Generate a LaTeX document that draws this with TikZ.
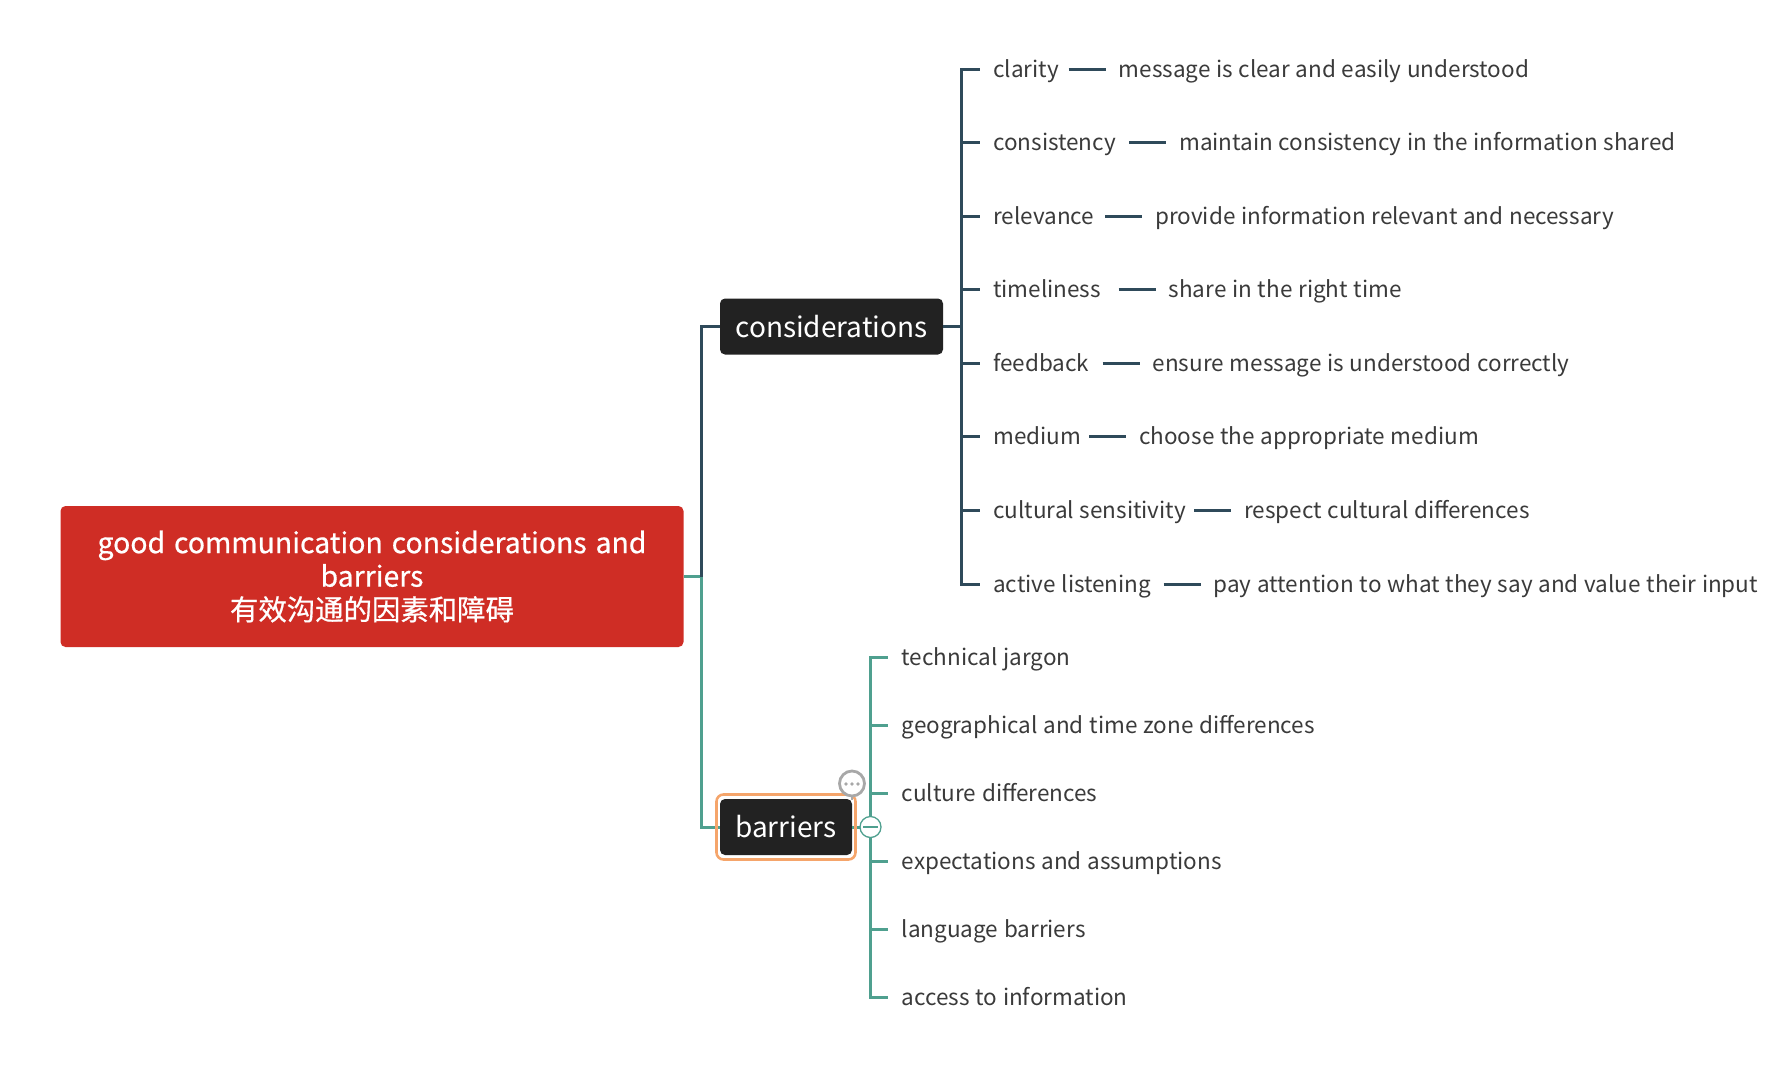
\documentclass[tikz,border=0pt]{standalone}
\usepackage{fontspec}
\setmainfont[WordSpace=1.14]{Noto Sans CJK SC}
\newfontfamily\rootfont[FakeBold=0.6,WordSpace=1.4]{Noto Sans CJK SC}
\definecolor{rootred}{HTML}{CF2D25}
\definecolor{boxblack}{HTML}{222222}
\definecolor{inkgrey}{HTML}{3A3A3A}
\definecolor{darkbranch}{HTML}{2F4A5A}
\definecolor{greenbranch}{HTML}{4FA08F}
\definecolor{selorange}{HTML}{F5A56B}
\definecolor{notegrey}{HTML}{A8A8A8}
\tikzset{
    rootbox/.style={fill=rootred, text=white, rounded corners=5pt, minimum width=623pt, minimum height=141pt, align=center, inner sep=0pt, font=\rootfont\fontsize{28.4}{33.5}\selectfont},
    topicbox/.style={fill=boxblack, text=white, rounded corners=5pt, minimum height=56pt, inner sep=0pt, font=\fontsize{28}{30}\selectfont},
    leaf/.style={anchor=west, inner sep=0pt, text height=21pt, text depth=5pt, text=inkgrey, font=\fontsize{22.5}{26}\selectfont},
    darkline/.style={draw=darkbranch, line width=3pt},
    greenline/.style={draw=greenbranch, line width=3pt}
}
\begin{document}
\begin{tikzpicture}[x=1pt, y=-1pt]
    \useasboundingbox (0,0) rectangle (1788,1072);
    \node[rootbox] (root) at (372,576.5) {good communication considerations and\\barriers\\有效沟通的因素和障碍};
    \node[topicbox, minimum width=223pt] (considerations) at (831.5,326.5) {considerations};
    \node[topicbox, minimum width=132pt] (barriers) at (786,827) {barriers};
    \coordinate (mainjoint) at (701.5,576.5);
    \coordinate (construnk) at (961.5,326.5);
    \coordinate (bartrunk) at (870.5,827);
    % main branches
    \draw[greenline] (root.east) -- (mainjoint) |- (barriers.west);
    \draw[darkline] (mainjoint) |- (considerations.west);
    \draw[darkline] (considerations.east) -- (construnk);
    \draw[greenline] (barriers.east) -- (bartrunk);
    % considerations
    \foreach \name/\ypos/\descx/\lab/\desc in {
        clarity/69/1118.5/clarity/message is clear and easily understood,
        consistency/142.5/1179/consistency/maintain consistency in the information shared,
        relevance/216/1155/relevance/provide information relevant and necessary,
        timeliness/289.5/1168.5/timeliness/share in the right time,
        feedback/363/1152.5/feedback/ensure message is understood correctly,
        medium/436.5/1139/medium/choose the appropriate medium,
        cultural/510.5/1244/cultural sensitivity/respect cultural differences,
        active/584/1213.5/active listening/pay attention to what they say and value their input}
    {
        \node[leaf] (\name) at (993,\ypos) {\lab};
        \node[leaf] (\name-desc) at (\descx,\ypos) {\desc};
        \coordinate (\name-stub) at (\descx-50,\ypos);
        \draw[darkline] (construnk) |- ([xshift=-13pt]\name.west);
        \draw[darkline] (\name-stub) -- ([xshift=-13pt]\name-desc.west);
    }
    % barriers
    \foreach \name/\ypos/\lab in {
        jargon/657.5/technical jargon,
        geo/725.5/geographical and time zone differences,
        culture/793.5/culture differences,
        expect/861.5/expectations and assumptions,
        language/929.5/language barriers,
        access/997/access to information}
    {
        \node[leaf] (\name) at (901.5,\ypos) {\lab};
        \draw[greenline] (bartrunk) |- ([xshift=-13.5pt]\name.west);
    }
    % selection frame and small icons
    \node[draw=selorange, line width=2.6pt, rounded corners=7pt, minimum width=139pt, minimum height=65pt] (barframe) at (786,827) {};
    \node[circle, fill=white, draw=greenbranch, line width=1.3pt, minimum size=21pt, inner sep=0pt] (collapse) at (870.5,827) {};
    \draw[draw=greenbranch, line width=1.3pt] ([xshift=4pt]collapse.west) -- ([xshift=-4pt]collapse.east);
    \node[circle, fill=white, draw=notegrey, line width=2.8pt, minimum size=25pt, inner sep=0pt] (note) at (852,783.5) {};
    \draw[draw=notegrey, line width=2.8pt] (note.south) -- +(0,3);
    \foreach \dx in {-6,0,6}
        \fill[notegrey] (852+\dx,784) circle (1.8pt);
\end{tikzpicture}
\end{document}
